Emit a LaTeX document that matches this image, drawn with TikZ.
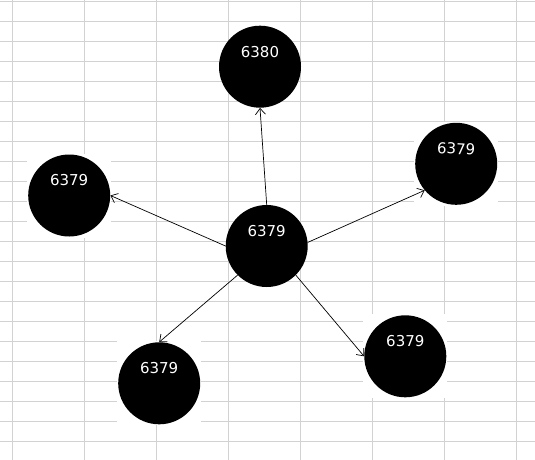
\documentclass[tikz,border=0pt]{standalone}
\usepackage{fontspec}
\setmainfont{DejaVu Sans}
\usepackage{tikz}
\usetikzlibrary{arrows.meta}
\definecolor{ink}{HTML}{000000}
\definecolor{rule}{HTML}{D2D2D2}
\tikzset{
  cell/.style={draw=rule, line width=0.9pt},
  mask/.style={fill=white},
  port/.style={circle, fill=ink, inner sep=0pt, minimum size=82pt},
  num/.style={inner sep=0pt, text=white, font=\fontsize{15}{17}\selectfont, yshift=15pt},
  link/.style={draw=ink, line width=0.7pt, -{Straight Barb[length=6pt,width=10pt]}},
}

\begin{document}
\begin{tikzpicture}[x=1pt, y=-1pt]
  \useasboundingbox (0,0) rectangle (535,460);

  % sheet grid behind the drawing
  \foreach \x in {12.5,84.5,...,516.5} \draw[cell] (\x,0) -- (\x,460);
  \foreach \y in {1.3,21.3,...,441.3} \draw[cell] (0,\y) -- (535,\y);

  % pasted shapes keep a white cell round them
  \foreach \cx/\cy in {69.2/195.5, 456.2/163.8, 159.2/383.3, 405.3/356.3}
    \fill[mask] (\cx-42,\cy-42) rectangle (\cx+42,\cy+42);

  \node[port, label={[num]center:6379}] (hub) at (266.7,246) {};
  \node[port, label={[num]center:6380}] (nup) at (260,66.7) {};
  \node[port, label={[num]center:6379}] (nleft) at (69.2,195.5) {};
  \node[port, label={[num, rotate=-3]center:6379}] (nright) at (456.2,163.8) {};
  \node[port, label={[num]center:6379}] (ndl) at (159.2,383.3) {};
  \node[port, label={[num]center:6379}] (ndr) at (405.3,356.3) {};

  \draw[link] (hub.north) -- (nup.south);
  \draw[link] (hub.west) -- (nleft.east);
  \draw[link] (hub.5) -- (nright.220);
  \draw[link] (hub.-135) -- (ndl.north);
  \draw[link] (hub.-45) -- (ndr.west);
\end{tikzpicture}
\end{document}
